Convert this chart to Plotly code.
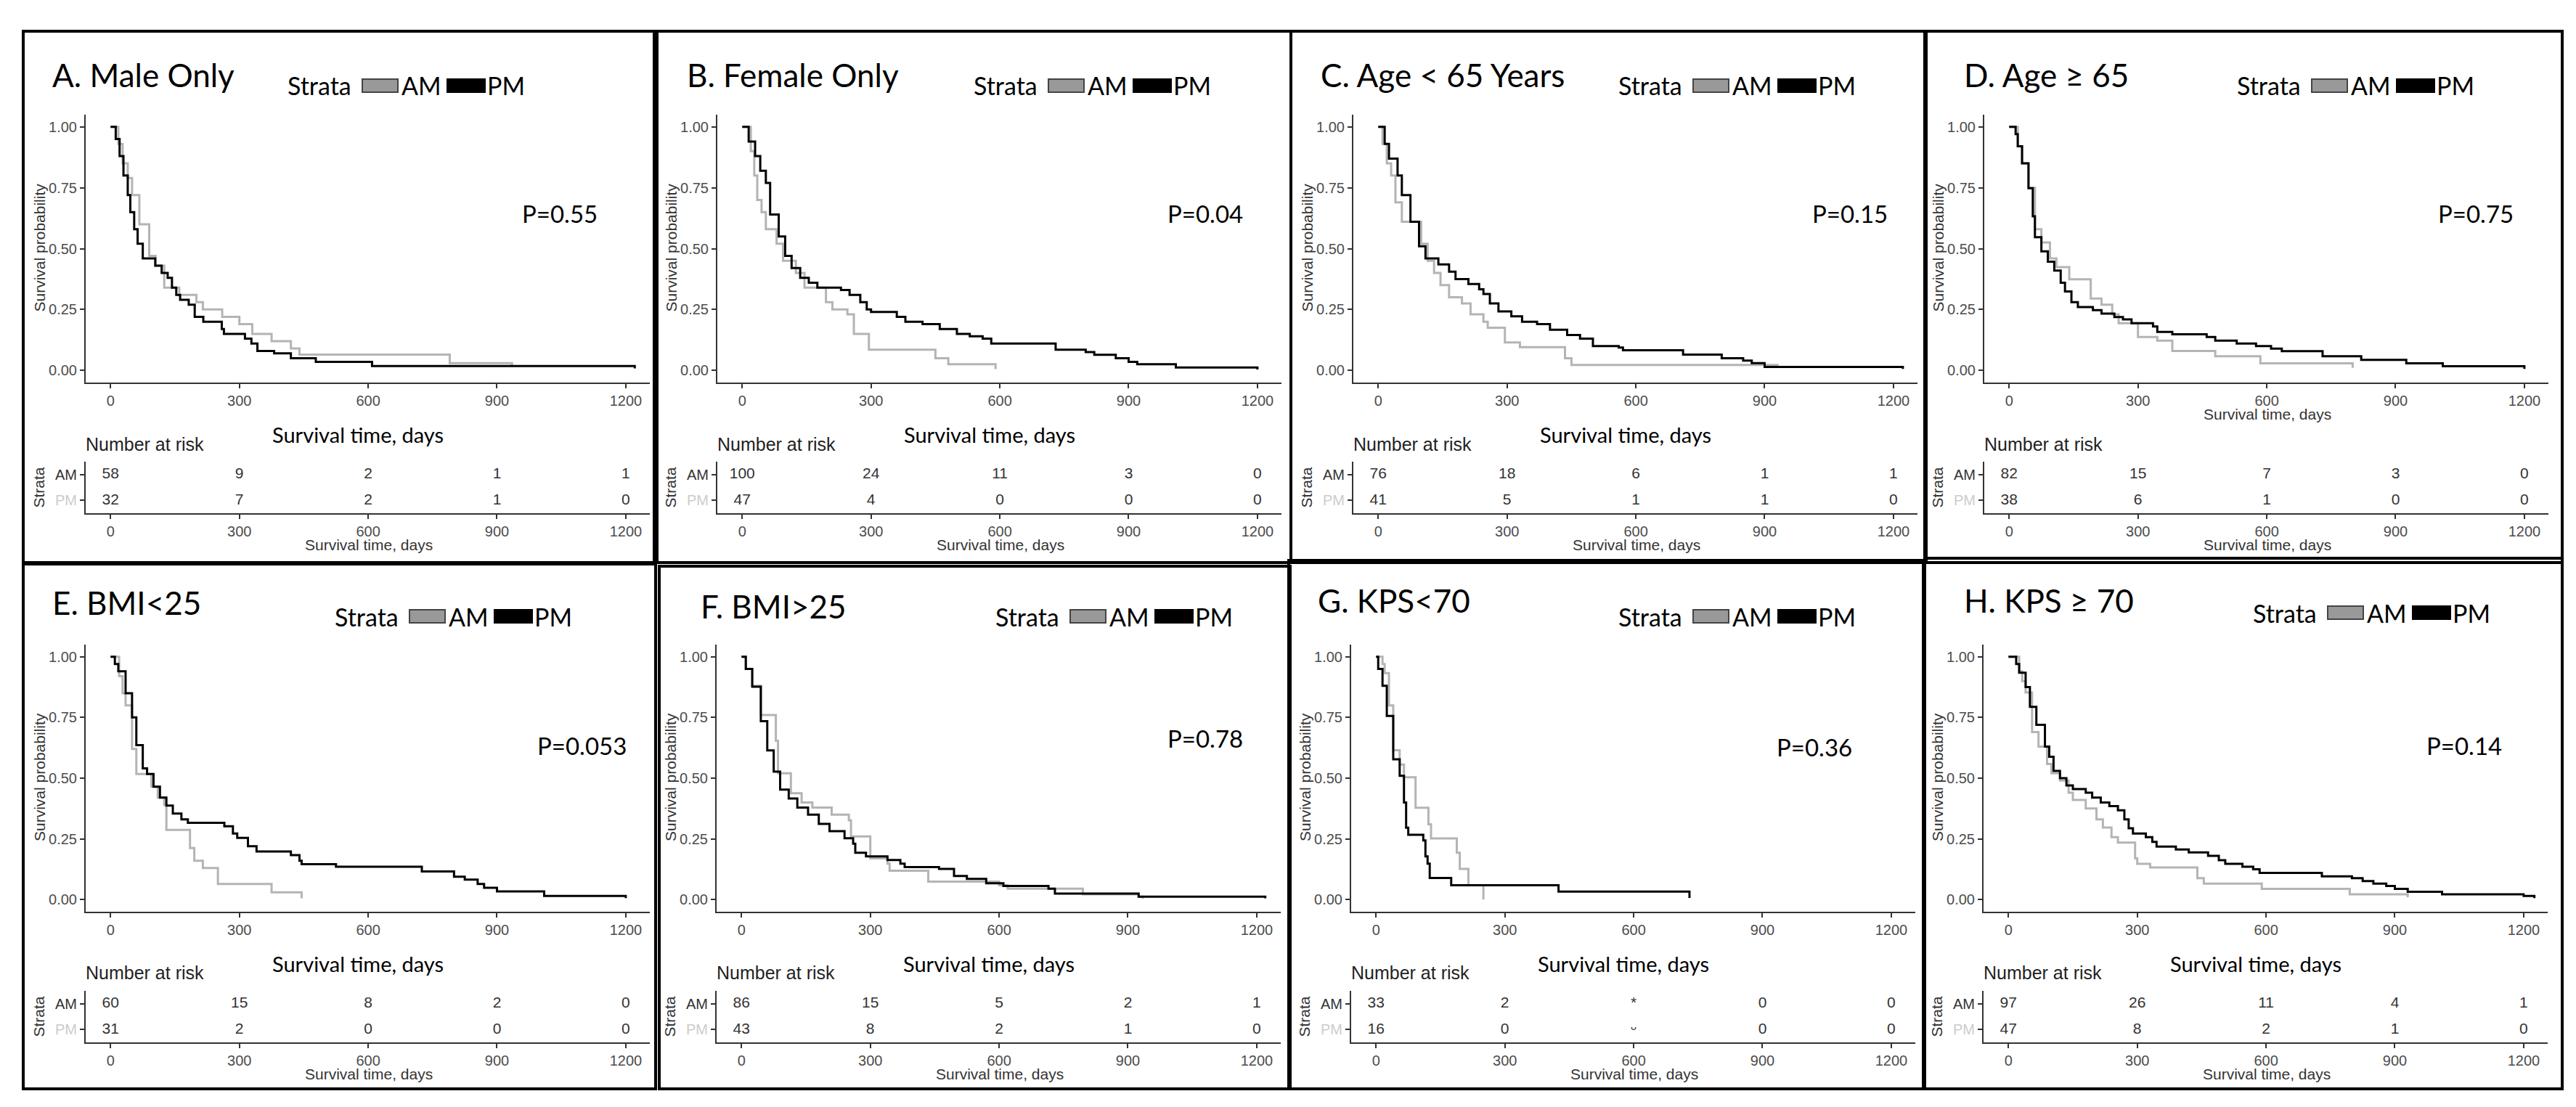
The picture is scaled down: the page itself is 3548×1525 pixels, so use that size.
import plotly.graph_objects as go

W, H = 3548, 1525

titles = ["A. Male Only", "B. Female Only", "C. Age < 65 Years", "D. Age \u2265 65",
          "E. BMI<25", "F. BMI>25", "G. KPS<70", "H. KPS \u2265 70"]
p_values = ["P=0.55", "P=0.04", "P=0.15", "P=0.75", "P=0.053", "P=0.78", "P=0.36", "P=0.14"]
time_ticks = [0, 300, 600, 900, 1200]
strata = ["AM", "PM"]

# --- survival curves (days, survival probability) ---
a_am_t = [0, 18, 28, 40, 50, 67, 90, 105, 125, 160, 200, 215, 260, 300, 330, 375, 420, 440, 790, 935]
a_am_s = [1.0, 0.93, 0.85, 0.79, 0.72, 0.60, 0.47, 0.43, 0.34, 0.31, 0.28, 0.25, 0.22, 0.19, 0.15, 0.12, 0.09, 0.065, 0.03, 0.015]
a_pm_t = [0, 12, 21, 30, 40, 46, 55, 63, 75, 104, 119, 133, 143, 153, 162, 182, 196, 216, 259, 264, 313, 328, 342,
          381, 420, 478, 609, 1221]
a_pm_s = [1.0, 0.95, 0.88, 0.80, 0.72, 0.65, 0.58, 0.52, 0.46, 0.43, 0.40, 0.38, 0.34, 0.31, 0.29, 0.27, 0.22, 0.20,
          0.17, 0.15, 0.13, 0.11, 0.08, 0.07, 0.05, 0.035, 0.018, 0.008]

b_am_t = [0, 20, 28, 35, 45, 55, 80, 95, 125, 145, 195, 210, 245, 260, 295, 450, 480, 590]
b_am_s = [1.0, 0.90, 0.80, 0.70, 0.65, 0.58, 0.52, 0.45, 0.40, 0.34, 0.28, 0.25, 0.23, 0.15, 0.085, 0.05, 0.025, 0.005]
b_pm_t = [0, 15, 30, 42, 55, 65, 85, 100, 115, 135, 155, 175, 230, 250, 275, 290, 300, 360, 380, 420, 460, 500, 530,
          560, 580, 730, 800, 820, 870, 900, 920, 1010, 1200]
b_pm_s = [1.0, 0.94, 0.88, 0.82, 0.77, 0.64, 0.55, 0.47, 0.42, 0.38, 0.36, 0.34, 0.33, 0.31, 0.28, 0.25, 0.24, 0.22,
          0.20, 0.19, 0.17, 0.15, 0.14, 0.13, 0.11, 0.085, 0.075, 0.064, 0.05, 0.035, 0.025, 0.012, 0.004]

c_am_t = [0, 10, 20, 30, 40, 55, 100, 115, 130, 145, 165, 195, 215, 245, 255, 295, 330, 435, 450, 930]
c_am_s = [1.0, 0.93, 0.85, 0.80, 0.69, 0.61, 0.52, 0.45, 0.40, 0.35, 0.30, 0.275, 0.23, 0.20, 0.175, 0.115, 0.095,
          0.05, 0.022, 0.01]
c_pm_t = [0, 15, 25, 45, 55, 75, 95, 110, 140, 165, 180, 210, 235, 245, 260, 280, 310, 335, 370, 400, 440, 470, 500,
          560, 570, 710, 800, 850, 870, 900, 1222]
c_pm_s = [1.0, 0.93, 0.87, 0.80, 0.72, 0.61, 0.51, 0.46, 0.435, 0.405, 0.375, 0.355, 0.333, 0.314, 0.275, 0.242,
          0.222, 0.20, 0.19, 0.167, 0.145, 0.13, 0.10, 0.094, 0.083, 0.065, 0.05, 0.04, 0.03, 0.014, 0.006]

d_am_t = [0, 20, 30, 45, 60, 75, 95, 110, 140, 190, 215, 240, 255, 300, 345, 380, 480, 585, 800]
d_am_s = [1.0, 0.92, 0.85, 0.75, 0.58, 0.525, 0.46, 0.424, 0.374, 0.295, 0.27, 0.23, 0.194, 0.137, 0.122, 0.08,
          0.058, 0.029, 0.01]
d_pm_t = [0, 15, 20, 30, 45, 55, 60, 75, 90, 105, 120, 130, 145, 160, 195, 215, 245, 265, 285, 335, 345, 380, 460,
          480, 530, 575, 610, 635, 730, 820, 925, 1010, 1200]
d_pm_s = [1.0, 0.97, 0.92, 0.85, 0.748, 0.633, 0.547, 0.489, 0.446, 0.41, 0.36, 0.324, 0.28, 0.26, 0.247, 0.233,
          0.219, 0.209, 0.194, 0.18, 0.158, 0.148, 0.137, 0.122, 0.11, 0.10, 0.089, 0.079, 0.058, 0.043, 0.029,
          0.017, 0.006]

e_am_t = [0, 20, 28, 35, 50, 60, 95, 110, 125, 130, 185, 195, 215, 250, 375, 445]
e_am_s = [1.0, 0.92, 0.85, 0.80, 0.62, 0.517, 0.465, 0.42, 0.39, 0.287, 0.212, 0.16, 0.13, 0.064, 0.03, 0.005]
e_pm_t = [0, 10, 18, 35, 50, 60, 75, 85, 100, 115, 130, 145, 165, 180, 265, 285, 295, 320, 340, 420, 440, 445, 525,
          725, 800, 825, 855, 870, 900, 1010, 1200]
e_pm_s = [1.0, 0.97, 0.94, 0.85, 0.75, 0.636, 0.54, 0.517, 0.465, 0.42, 0.387, 0.354, 0.33, 0.316, 0.302, 0.272,
          0.254, 0.22, 0.198, 0.183, 0.16, 0.146, 0.135, 0.116, 0.094, 0.082, 0.064, 0.049, 0.034, 0.015, 0.006]

f_am_t = [0, 10, 25, 45, 80, 85, 115, 140, 165, 210, 250, 255, 300, 340, 345, 435, 600, 620, 795, 925, 935]
f_am_s = [1.0, 0.95, 0.88, 0.76, 0.654, 0.52, 0.438, 0.40, 0.379, 0.35, 0.327, 0.26, 0.17, 0.148, 0.119, 0.074,
          0.059, 0.045, 0.022, 0.012, 0.004]
f_pm_t = [0, 10, 25, 45, 60, 75, 90, 110, 130, 155, 180, 205, 240, 260, 265, 290, 340, 370, 380, 460, 495, 525, 570,
          610, 715, 730, 925, 1220]
f_pm_s = [1.0, 0.95, 0.877, 0.735, 0.614, 0.527, 0.453, 0.416, 0.379, 0.35, 0.312, 0.282, 0.253, 0.23, 0.193,
          0.178, 0.163, 0.148, 0.134, 0.126, 0.097, 0.085, 0.067, 0.056, 0.045, 0.025, 0.012, 0.005]

g_am_t = [0, 15, 20, 30, 40, 55, 65, 92, 122, 128, 188, 195, 215, 250]
g_am_s = [1.0, 0.97, 0.933, 0.80, 0.615, 0.556, 0.504, 0.378, 0.31, 0.252, 0.193, 0.126, 0.059, 0.0]
g_pm_t = [0, 5, 15, 25, 40, 55, 65, 70, 75, 110, 115, 120, 125, 175, 425, 730]
g_pm_s = [1.0, 0.95, 0.88, 0.756, 0.578, 0.51, 0.40, 0.296, 0.267, 0.244, 0.178, 0.148, 0.089, 0.059, 0.033, 0.007]

h_am_t = [0, 25, 32, 40, 55, 70, 90, 100, 120, 140, 150, 180, 205, 220, 240, 255, 295, 300, 330, 440, 455, 590,
          795, 930]
h_am_s = [1.0, 0.94, 0.90, 0.853, 0.69, 0.63, 0.558, 0.52, 0.49, 0.44, 0.41, 0.375, 0.33, 0.297, 0.257, 0.235, 0.17,
          0.147, 0.132, 0.088, 0.066, 0.044, 0.022, 0.01]
h_pm_t = [0, 18, 25, 40, 50, 65, 85, 95, 105, 120, 135, 150, 180, 195, 215, 235, 255, 270, 280, 290, 320, 335, 345,
          390, 420, 465, 490, 505, 545, 570, 585, 730, 800, 825, 850, 880, 900, 930, 1010, 1200, 1225]
h_pm_s = [1.0, 0.97, 0.934, 0.875, 0.794, 0.72, 0.63, 0.588, 0.53, 0.50, 0.47, 0.455, 0.44, 0.42, 0.40, 0.385,
          0.368, 0.33, 0.294, 0.272, 0.257, 0.238, 0.218, 0.206, 0.194, 0.18, 0.162, 0.147, 0.135, 0.125, 0.11,
          0.096, 0.088, 0.076, 0.066, 0.056, 0.044, 0.032, 0.022, 0.015, 0.006]

# --- number at risk at 0, 300, 600, 900, 1200 days ---
a_risk_am = ["58", "9", "2", "1", "1"]
a_risk_pm = ["32", "7", "2", "1", "0"]
b_risk_am = ["100", "24", "11", "3", "0"]
b_risk_pm = ["47", "4", "0", "0", "0"]
c_risk_am = ["76", "18", "6", "1", "1"]
c_risk_pm = ["41", "5", "1", "1", "0"]
d_risk_am = ["82", "15", "7", "3", "0"]
d_risk_pm = ["38", "6", "1", "0", "0"]
e_risk_am = ["60", "15", "8", "2", "0"]
e_risk_pm = ["31", "2", "0", "0", "0"]
f_risk_am = ["86", "15", "5", "2", "1"]
f_risk_pm = ["43", "8", "2", "1", "0"]
g_risk_am = ["33", "2", "*", "0", "0"]
g_risk_pm = ["16", "0", "\u1d55", "0", "0"]
h_risk_am = ["97", "26", "11", "4", "1"]
h_risk_pm = ["47", "8", "2", "1", "0"]

curves = [(a_am_t, a_am_s, a_pm_t, a_pm_s), (b_am_t, b_am_s, b_pm_t, b_pm_s),
          (c_am_t, c_am_s, c_pm_t, c_pm_s), (d_am_t, d_am_s, d_pm_t, d_pm_s),
          (e_am_t, e_am_s, e_pm_t, e_pm_s), (f_am_t, f_am_s, f_pm_t, f_pm_s),
          (g_am_t, g_am_s, g_pm_t, g_pm_s), (h_am_t, h_am_s, h_pm_t, h_pm_s)]
risks = [(a_risk_am, a_risk_pm), (b_risk_am, b_risk_pm), (c_risk_am, c_risk_pm), (d_risk_am, d_risk_pm),
         (e_risk_am, e_risk_pm), (f_risk_am, f_risk_pm), (g_risk_am, g_risk_pm), (h_risk_am, h_risk_pm)]

# panel placement in pixels: box, y-axis line x, title, legend, p-value
panels = [
    dict(box=(24, 35, 893, 767), axl=110, tx=62, ty=95, lx=386, ly=110, px=709, py=286),
    dict(box=(897, 35, 1770, 767), axl=980, tx=936, ty=95, lx=1331, ly=110, px=1598, py=286),
    dict(box=(1770, 35, 2643, 767), axl=1856, tx=1809, ty=95, lx=2219, ly=110, px=2486, py=286),
    dict(box=(2645, 35, 3521, 767), axl=2725, tx=2695, ty=95, lx=3071, ly=110, px=3348, py=286),
    dict(box=(24, 769, 895, 1492), axl=110, tx=62, ty=822, lx=451, ly=841, px=730, py=1019),
    dict(box=(900, 772, 1769, 1492), axl=979, tx=955, ty=827, lx=1361, ly=841, px=1598, py=1009),
    dict(box=(1767, 764, 2641, 1492), axl=1853, tx=1805, ty=819, lx=2219, ly=841, px=2437, py=1021),
    dict(box=(2643, 761, 3521, 1492), axl=2724, tx=2695, ty=819, lx=3093, ly=836, px=3332, py=1019),
]
row_km = [(150, 519), (880, 1248)]
row_tab = [(628, 699), (1357, 1428)]
row_big = [591, 1319]
row_nar = [604, 1332]
row_small = [742, 1471]
AX_LEN = 777
X_RANGE = [-58, 1256]

CAL = "Lato, Carlito, Calibri, sans-serif"
ARI = "Liberation Sans, Arial, sans-serif"
GREY = "#b4b4b4"


def fx(p):
    return p / W


def fy(p):
    return 1 - p / H


def names(n):
    s = "" if n == 1 else str(n)
    return "xaxis" + s, "yaxis" + s, "x" + s, "y" + s


axis_base = dict(showline=True, linecolor="#333333", linewidth=2, ticks="outside", ticklen=6,
                 tickcolor="#333333", tickwidth=2, showgrid=False, zeroline=False,
                 tickfont=dict(family=ARI, size=20, color="#4d4d4d"), fixedrange=True)

fig = go.Figure()
annotations = []
shapes = []
layout_axes = {}

for i, pnl in enumerate(panels):
    row = 0 if i < 4 else 1
    axl = pnl["axl"]
    xdom = [fx(axl), fx(axl + AX_LEN)]

    # survival plot
    xa, ya, xr, yr = names(2 * i + 1)
    am_t, am_s, pm_t, pm_s = curves[i]
    fig.add_trace(go.Scatter(x=am_t, y=am_s, mode="lines", line=dict(color=GREY, width=3, shape="hv"),
                             xaxis=xr, yaxis=yr, name="AM"))
    fig.add_trace(go.Scatter(x=pm_t, y=pm_s, mode="lines", line=dict(color="black", width=3, shape="hv"),
                             xaxis=xr, yaxis=yr, name="PM"))
    top, bot = row_km[row]
    layout_axes[xa] = dict(axis_base, domain=xdom, range=X_RANGE, anchor=yr, tickvals=time_ticks)
    layout_axes[ya] = dict(axis_base, domain=[fy(bot), fy(top)], range=[-0.05, 1.05], anchor=xr,
                           tickvals=[0, 0.25, 0.5, 0.75, 1], ticktext=["0.00", "0.25", "0.50", "0.75", "1.00"])

    # risk table
    xa2, ya2, xr2, yr2 = names(2 * i + 2)
    r_am, r_pm = risks[i]
    fig.add_trace(go.Scatter(x=time_ticks + time_ticks, y=[2] * 5 + [1] * 5, mode="text",
                             text=r_am + r_pm, textfont=dict(family=ARI, size=21, color="#333333"),
                             xaxis=xr2, yaxis=yr2))
    ttop, tbot = row_tab[row]
    layout_axes[xa2] = dict(axis_base, domain=xdom, range=X_RANGE, anchor=yr2, tickvals=time_ticks)
    layout_axes[ya2] = dict(axis_base, domain=[fy(tbot), fy(ttop)], range=[0.5, 2.5], anchor=xr2,
                            tickvals=[2, 1],
                            ticktext=['<span style="color:#333333">' + strata[0] + '</span>',
                                      '<span style="color:#cccccc">' + strata[1] + '</span>'])

    # panel frame
    x0, y0, x1, y1 = pnl["box"]
    shapes.append(dict(type="rect", xref="paper", yref="paper", x0=fx(x0), x1=fx(x1), y0=fy(y1), y1=fy(y0),
                       line=dict(color="black", width=4)))

    # title, p-value
    annotations.append(dict(text=titles[i], x=fx(pnl["tx"]), y=fy(pnl["ty"]), xanchor="left", yanchor="middle",
                            font=dict(family=CAL, size=44, color="black")))
    annotations.append(dict(text=p_values[i], x=fx(pnl["px"]), y=fy(pnl["py"]), xanchor="left", yanchor="middle",
                            font=dict(family=CAL, size=33, color="black")))

    # legend
    lx, ly = pnl["lx"], pnl["ly"]
    annotations.append(dict(text="Strata", x=fx(lx), y=fy(ly), xanchor="left", yanchor="middle",
                            font=dict(family=CAL, size=34, color="black")))
    shapes.append(dict(type="rect", xref="paper", yref="paper", x0=fx(lx + 105), x1=fx(lx + 154),
                       y0=fy(ly + 9), y1=fy(ly - 9), fillcolor="#999999", line=dict(color="#444444", width=2)))
    annotations.append(dict(text="AM", x=fx(lx + 157), y=fy(ly), xanchor="left", yanchor="middle",
                            font=dict(family=CAL, size=34, color="black")))
    shapes.append(dict(type="rect", xref="paper", yref="paper", x0=fx(lx + 222), x1=fx(lx + 274),
                       y0=fy(ly + 9), y1=fy(ly - 9), fillcolor="black", line=dict(color="black", width=2)))
    annotations.append(dict(text="PM", x=fx(lx + 275), y=fy(ly), xanchor="left", yanchor="middle",
                            font=dict(family=CAL, size=34, color="black")))

    # axis titles
    annotations.append(dict(text="Survival probability", x=fx(axl - 64), y=fy((top + bot) / 2 - 1),
                            textangle=-90, xanchor="center", yanchor="middle",
                            font=dict(family=ARI, size=21, color="#333333")))
    annotations.append(dict(text="Strata", x=fx(axl - 65), y=fy((ttop + tbot) / 2), textangle=-90,
                            xanchor="center", yanchor="middle", font=dict(family=ARI, size=21, color="#333333")))
    if i == 3:
        annotations.append(dict(text="Survival time, days", x=fx(axl + 390), y=fy(row_km[row][1] + 43),
                                xanchor="center", yanchor="middle", font=dict(family=ARI, size=21, color="#333333")))
    else:
        annotations.append(dict(text="Survival time, days", x=fx(axl + 375), y=fy(row_big[row]),
                                xanchor="center", yanchor="middle", font=dict(family=CAL, size=29, color="black")))
    annotations.append(dict(text="Number at risk", x=fx(axl - 2), y=fy(row_nar[row]), xanchor="left",
                            yanchor="middle", font=dict(family=ARI, size=25, color="#222222")))
    annotations.append(dict(text="Survival time, days", x=fx(axl + 390), y=fy(row_small[row]),
                            xanchor="center", yanchor="middle", font=dict(family=ARI, size=21, color="#333333")))

for a in annotations:
    a.update(xref="paper", yref="paper", showarrow=False)

fig.update_layout(width=W, height=H, margin=dict(l=0, r=0, t=0, b=0), showlegend=False,
                  plot_bgcolor="white", paper_bgcolor="white",
                  annotations=annotations, shapes=shapes, **layout_axes)

fig.write_html("out.html")
